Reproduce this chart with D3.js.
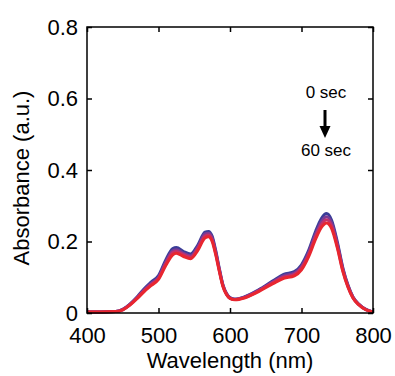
<!DOCTYPE html>
<html>
<head>
<meta charset="utf-8">
<script src="https://cdn.jsdelivr.net/npm/d3@7"></script>
<style>
  body { margin: 0; background: #fff; }
  text { font-family: "Liberation Sans", Arial, sans-serif; fill: #000; }
</style>
</head>
<body>
<div id="chart"></div>
<script>
// data
const wavelength = [400, 420, 440, 450, 460, 470, 480, 490, 500, 510, 520, 525, 535, 545, 555, 565, 570, 575, 580, 585, 590, 595, 600, 607, 620, 640, 660, 675, 690, 700, 710, 720, 728, 735, 742, 750, 758, 765, 772, 780, 790, 800];
const abs0s  = [.003,.003,.004,.010,.025,.045,.068,.087,.105,.148,.180,.183,.172,.165,.190,.226,.228,.215,.175,.125,.080,.055,.043,.039,.045,.065,.090,.108,.116,.135,.175,.230,.265,.278,.260,.200,.125,.078,.045,.025,.010,.003];
const abs20s = [.003,.003,.004,.010,.024,.043,.065,.083,.100,.142,.174,.177,.167,.160,.185,.221,.223,.210,.171,.122,.078,.054,.042,.038,.044,.063,.087,.104,.112,.130,.169,.222,.256,.269,.252,.194,.122,.076,.044,.024,.010,.003];
const abs40s = [.003,.003,.004,.009,.023,.042,.063,.080,.097,.137,.169,.172,.163,.156,.180,.215,.218,.205,.167,.120,.077,.053,.041,.038,.043,.062,.085,.100,.108,.126,.163,.215,.248,.261,.244,.188,.118,.074,.043,.024,.009,.003];
const abs60s = [.003,.003,.004,.009,.022,.040,.060,.077,.094,.132,.163,.167,.158,.152,.175,.210,.213,.200,.163,.117,.075,.052,.041,.037,.042,.060,.082,.097,.104,.121,.158,.208,.240,.252,.237,.183,.115,.072,.042,.023,.009,.003];
const seriesNames = ["0 sec", "20 sec", "40 sec", "60 sec"];
const seriesColors = ["#3b3d98", "#7b3b94", "#c4306a", "#e8262f"];
const xTicks = [400, 500, 600, 700, 800];
const yTicks = [0, 0.2, 0.4, 0.6, 0.8];

const width = 395, height = 376;
const margin = { top: 27, right: 22, bottom: 63, left: 87 };
const iw = width - margin.left - margin.right;
const ih = height - margin.top - margin.bottom;

const svg = d3.select("#chart").append("svg")
    .attr("width", width)
    .attr("height", height);

const g = svg.append("g").attr("transform", `translate(${margin.left},${margin.top})`);

const x = d3.scaleLinear().domain([400, 800]).range([0, iw]);
const y = d3.scaleLinear().domain([0, 0.8]).range([ih, 0]);

// spectra, 0 sec drawn first so later ones sit on top
const allSeries = [abs0s, abs20s, abs40s, abs60s];
const line = d3.line()
    .x((d, i) => x(wavelength[i]))
    .y(d => y(d))
    .curve(d3.curveMonotoneX);

g.append("g").selectAll("path")
    .data(allSeries)
    .enter().append("path")
    .attr("d", d => line(d))
    .attr("fill", "none")
    .attr("stroke", (d, i) => seriesColors[i])
    .attr("stroke-width", 3)
    .attr("stroke-linejoin", "round");

// axes with inward ticks
const fmt = d => d === 0 ? "0" : d3.format(".1f")(d);
const fontSize = 22;

const xAxis = g.append("g").attr("transform", `translate(0,${ih})`)
    .call(d3.axisBottom(x).tickValues(xTicks).tickSize(-5).tickPadding(14).tickSizeOuter(0));
const yAxis = g.append("g")
    .call(d3.axisLeft(y).tickValues(yTicks).tickFormat(fmt).tickSize(-5).tickPadding(9).tickSizeOuter(0));
const xTop = g.append("g")
    .call(d3.axisTop(x).tickValues(xTicks).tickSize(-5).tickFormat("").tickSizeOuter(0));
const yRight = g.append("g").attr("transform", `translate(${iw},0)`)
    .call(d3.axisRight(y).tickValues(yTicks).tickSize(-5).tickFormat("").tickSizeOuter(0));

[xAxis, yAxis, xTop, yRight].forEach(a => {
    a.select(".domain").remove();
    a.selectAll("line").attr("stroke", "#000").attr("stroke-width", 1.5);
    a.selectAll("text").style("font-size", fontSize + "px").style("font-family", null);
});

// frame
g.append("rect")
    .attr("width", iw).attr("height", ih)
    .attr("fill", "none").attr("stroke", "#000").attr("stroke-width", 1.5);

// axis titles
svg.append("text")
    .attr("x", margin.left + iw / 2)
    .attr("y", 368)
    .attr("text-anchor", "middle")
    .style("font-size", fontSize + "px")
    .text("Wavelength (nm)");

svg.append("text")
    .attr("transform", "rotate(-90)")
    .attr("x", -178)
    .attr("y", 29)
    .attr("text-anchor", "middle")
    .style("font-size", fontSize + "px")
    .text("Absorbance (a.u.)");

// time annotation
const ax = 326;
svg.append("text").attr("x", ax).attr("y", 98).attr("text-anchor", "middle")
    .style("font-size", "17px").text(seriesNames[0]);
svg.append("text").attr("x", ax).attr("y", 156).attr("text-anchor", "middle")
    .style("font-size", "17px").text(seriesNames[seriesNames.length - 1]);
svg.append("line")
    .attr("x1", ax - 1).attr("x2", ax - 1).attr("y1", 110).attr("y2", 128)
    .attr("stroke", "#000").attr("stroke-width", 3);
svg.append("path")
    .attr("d", `M${ax - 6.5},126 L${ax + 4.5},126 L${ax - 1},138 Z`)
    .attr("fill", "#000");
</script>
</body>
</html>
